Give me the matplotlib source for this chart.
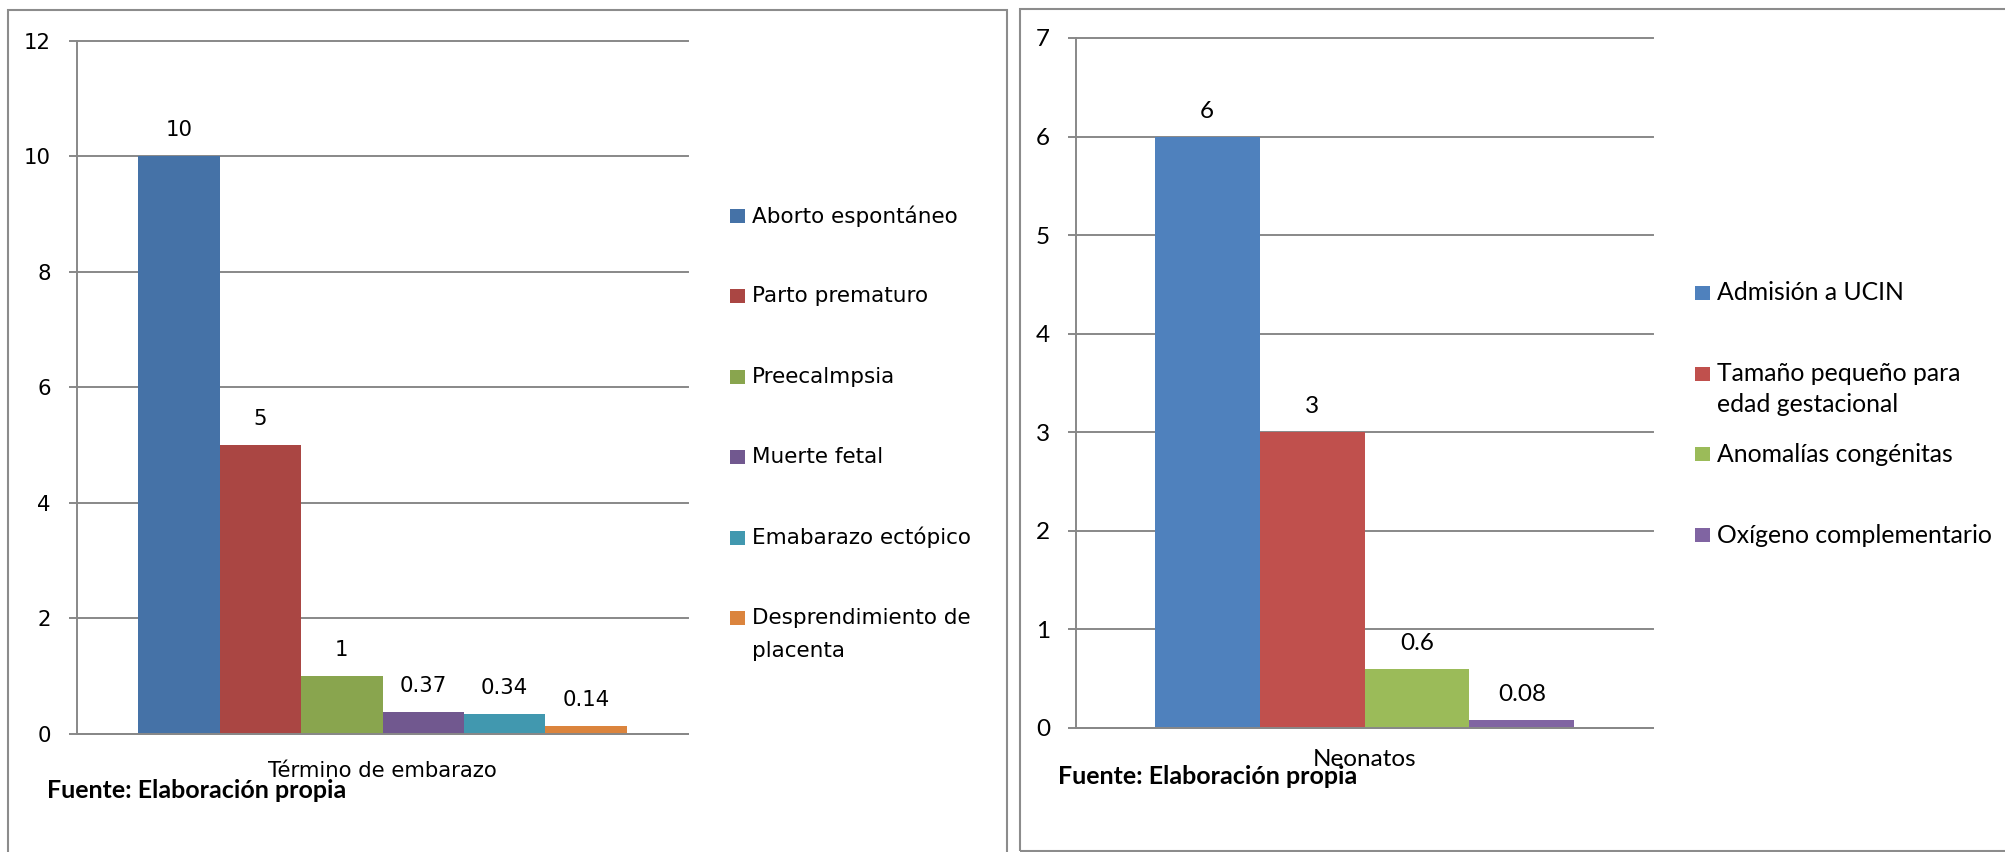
import matplotlib
matplotlib.use("Agg")
import matplotlib.pyplot as plt
from matplotlib.patches import Rectangle

W, H = 2005, 852

# left chart: pregnancy outcomes
embarazo_cat = "Término de embarazo"
embarazo_series = ["Aborto espontáneo", "Parto prematuro", "Preecalmpsia", "Muerte fetal",
                   "Emabarazo ectópico", "Desprendimiento de\nplacenta"]
embarazo_vals = [10, 5, 1, 0.37, 0.34, 0.14]
embarazo_ticks = [0, 2, 4, 6, 8, 10, 12]

# right chart: neonatal outcomes
neonatos_cat = "Neonatos"
neonatos_series = ["Admisión a UCIN", "Tamaño pequeño para\nedad gestacional",
                   "Anomalías congénitas", "Oxígeno complementario"]
neonatos_vals = [6, 3, 0.6, 0.08]
neonatos_ticks = [0, 1, 2, 3, 4, 5, 6, 7]

fuente = "Fuente: Elaboración propia"

LEFT_COLORS = ["#4572A7", "#AA4643", "#89A54E", "#71588F", "#4198AF", "#DB843D"]
RIGHT_COLORS = ["#4F81BD", "#C0504D", "#9BBB59", "#8064A2"]
GRID = "#888888"
BORDER = "#8c8c8c"
PX = 0.72  # points per pixel at dpi 100

fig = plt.figure(figsize=(W / 100, H / 100), dpi=100)


def px_box(x0, y0, x1, y1):
    return [x0 / W, 1 - y1 / H, (x1 - x0) / W, (y1 - y0) / H]


def draw_chart(box, cat, vals, ticks, colors, font, size, label_off, cat_pad):
    ax = fig.add_axes(box)
    n = len(vals)
    w = 1 / (n + 1.5)  # 150% gap width
    xs = [0.5 + (i - (n - 1) / 2) * w for i in range(n)]
    ax.bar(xs, vals, width=w, color=colors, zorder=3)
    for x, v in zip(xs, vals):
        ax.annotate(f"{v:g}", (x, v), xytext=(0, label_off * PX), textcoords="offset points",
                    ha="center", va="center", fontsize=size, family=font, color="black")
    ax.set_xlim(0, 1)
    ax.set_ylim(ticks[0], ticks[-1])
    ax.set_yticks(ticks)
    ax.set_xticks([0.5])
    ax.set_xticklabels([cat])
    ax.tick_params(axis="x", length=0, pad=cat_pad * PX, labelsize=size)
    ax.tick_params(axis="y", length=8 * PX, width=1.4, color=GRID, pad=18 * PX, labelsize=size)
    for tl in ax.get_xticklabels() + ax.get_yticklabels():
        tl.set_family(font)
    ax.set_axisbelow(True)
    ax.grid(axis="y", color=GRID, lw=1.4)
    for gl in ax.get_ygridlines():
        gl.set_clip_on(False)
    for s in ("top", "right"):
        ax.spines[s].set_visible(False)
    for s in ("left", "bottom"):
        ax.spines[s].set_color(GRID)
        ax.spines[s].set_linewidth(1.4)
        ax.spines[s].set_zorder(4)
    return ax


def draw_legend(x_sq, y0, step, labels, colors, font, size, line_gap):
    for i, (lab, c) in enumerate(zip(labels, colors)):
        yc = y0 + i * step
        fig.add_artist(Rectangle((x_sq / W, 1 - (yc + 7) / H), 15 / W, 14 / H,
                                 transform=fig.transFigure, fc=c, ec="none"))
        for k, line in enumerate(lab.split("\n")):
            fig.text((x_sq + 22) / W, 1 - (yc + k * line_gap) / H, line, va="center",
                     ha="left", fontsize=size, family=font)


# panel frames
fig.add_artist(Rectangle((8 / W, 1 - 870 / H), 999 / W, 860 / H, transform=fig.transFigure,
                         fill=False, ec=BORDER, lw=1.5))
fig.add_artist(Rectangle((1020 / W, 1 - 851 / H), 1000 / W, 842 / H, transform=fig.transFigure,
                         fill=False, ec=BORDER, lw=1.5))

draw_chart(px_box(77, 40.8, 688, 733.7), embarazo_cat, embarazo_vals, embarazo_ticks,
           LEFT_COLORS, "DejaVu Sans", 15.3, 26, 27)
draw_legend(730, 216, 80.4, embarazo_series, LEFT_COLORS, "DejaVu Sans", 15.5, 33)
fig.text(47 / W, 1 - 790 / H, fuente, va="center", ha="left", fontsize=18,
         family="Lato", fontweight="bold")

draw_chart(px_box(1076, 38, 1653, 728), neonatos_cat, neonatos_vals, neonatos_ticks,
           RIGHT_COLORS, "Lato", 17.5, 25.5, 21)
draw_legend(1695, 293, 80.7, neonatos_series, RIGHT_COLORS, "Lato", 17.8, 31)
fig.text(1058 / W, 1 - 777 / H, fuente, va="center", ha="left", fontsize=18,
         family="Lato", fontweight="bold")

fig.savefig("out.png", dpi=100)
